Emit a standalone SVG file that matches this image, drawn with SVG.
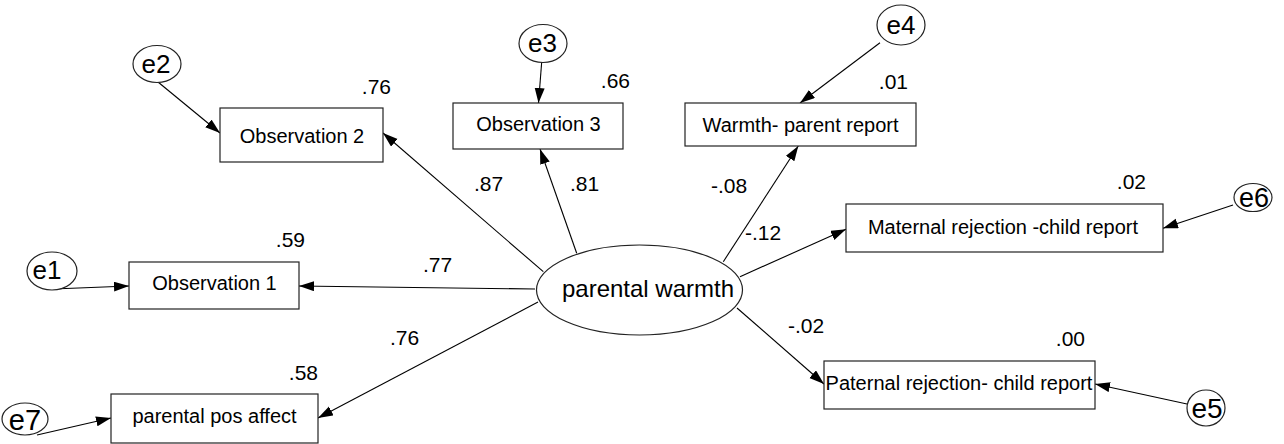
<svg xmlns="http://www.w3.org/2000/svg" width="1284" height="444" viewBox="0 0 1284 444">
<style>
text{font-family:"Liberation Sans",Arial,sans-serif;fill:#000}
.lbl{font-size:20px;text-anchor:middle}
.num{font-size:21px}
.end{text-anchor:end}
.box{fill:#fff;stroke:#222;stroke-width:1.2}
.err{fill:#fff;stroke:#222;stroke-width:1.2}
.ev{text-anchor:middle}
.con line{stroke:#000;stroke-width:1.1;marker-end:url(#ah)}
</style>
<defs>
<marker id="ah" markerUnits="userSpaceOnUse" markerWidth="16" markerHeight="12" refX="15" refY="5" orient="auto">
<path d="M0,0 L15,5 L0,10 z" fill="#000"/>
</marker>
</defs>
<rect width="1284" height="444" fill="#fff"/>
<g id="connectors" class="con">
<line x1="158" y1="82" x2="220" y2="133"/>
<line x1="541.7" y1="62" x2="538.5" y2="103"/>
<line x1="880" y1="42.7" x2="800" y2="103"/>
<line x1="1233" y1="205" x2="1163" y2="228.3"/>
<line x1="53" y1="289" x2="129" y2="286"/>
<line x1="37" y1="435" x2="111" y2="418"/>
<line x1="1187" y1="404" x2="1095" y2="384"/>
<line x1="543.3" y1="271.7" x2="383" y2="133"/>
<line x1="576.7" y1="253.3" x2="540" y2="149"/>
<line x1="723.3" y1="261.7" x2="798.3" y2="146"/>
<line x1="740" y1="276.7" x2="846" y2="229.3"/>
<line x1="535" y1="289" x2="299" y2="286"/>
<line x1="538" y1="302" x2="318" y2="418"/>
<line x1="737" y1="308" x2="824" y2="384"/>
</g>
<g id="parental-warmth">
<ellipse cx="639.5" cy="290" rx="103" ry="45" class="err"/>
<text x="648" y="297" font-size="24" text-anchor="middle">parental warmth</text>
</g>
<g id="obs2"><rect x="220" y="108" width="163" height="54" class="box"/><text class="lbl" x="302" y="143">Observation 2</text><text class="num end" x="391" y="94">.76</text></g>
<g id="obs3"><rect x="453" y="103" width="170" height="46" class="box"/><text class="lbl" x="538.5" y="131">Observation 3</text><text class="num end" x="630" y="88">.66</text></g>
<g id="warmth-parent"><rect x="685" y="103" width="231" height="43" class="box"/><text class="lbl" x="800.5" y="132">Warmth- parent report</text><text class="num end" x="908" y="89">.01</text></g>
<g id="maternal"><rect x="846" y="204" width="317" height="48" class="box"/><text class="lbl" x="1003" y="234">Maternal rejection -child report</text><text class="num end" x="1146" y="189">.02</text></g>
<g id="obs1"><rect x="129" y="262" width="170" height="47" class="box"/><text class="lbl" x="214.5" y="290">Observation 1</text><text class="num end" x="305" y="247">.59</text></g>
<g id="pos-affect"><rect x="111" y="394" width="207" height="49" class="box"/><text class="lbl" x="214.5" y="423">parental pos affect</text><text class="num end" x="318" y="380">.58</text></g>
<g id="paternal"><rect x="824" y="361" width="271" height="48" class="box"/><text class="lbl" x="959" y="390">Paternal rejection- child report</text><text class="num end" x="1085" y="346">.00</text></g>
<g id="e1"><ellipse cx="52" cy="271" rx="25" ry="19" class="err"/><text class="ev" x="47" y="279" font-size="26">e1</text></g>
<g id="e2"><ellipse cx="157" cy="64" rx="24" ry="18.5" class="err"/><text class="ev" x="156" y="72.5" font-size="26">e2</text></g>
<g id="e3"><ellipse cx="543" cy="43.5" rx="24" ry="19" class="err"/><text class="ev" x="542.5" y="52" font-size="26">e3</text></g>
<g id="e4"><ellipse cx="901" cy="25" rx="24" ry="20" class="err"/><text class="ev" x="901" y="34" font-size="26">e4</text></g>
<g id="e5"><ellipse cx="1206" cy="408" rx="19" ry="18" class="err"/><text class="ev" x="1207" y="418" font-size="28">e5</text></g>
<g id="e6"><ellipse cx="1253" cy="197.5" rx="19" ry="14" class="err"/><text class="ev" x="1254" y="207" font-size="27">e6</text></g>
<g id="e7"><ellipse cx="25" cy="419" rx="23" ry="16" class="err"/><text class="ev" x="25" y="429.5" font-size="29">e7</text></g>
<g id="path-labels">
<text class="num" x="474" y="191">.87</text>
<text class="num" x="570" y="191">.81</text>
<text class="num" x="423" y="272">.77</text>
<text class="num" x="711" y="193">-.08</text>
<text class="num" x="745" y="240">-.12</text>
<text class="num" x="390" y="345">.76</text>
<text class="num" x="788" y="333">-.02</text>
</g>
</svg>
